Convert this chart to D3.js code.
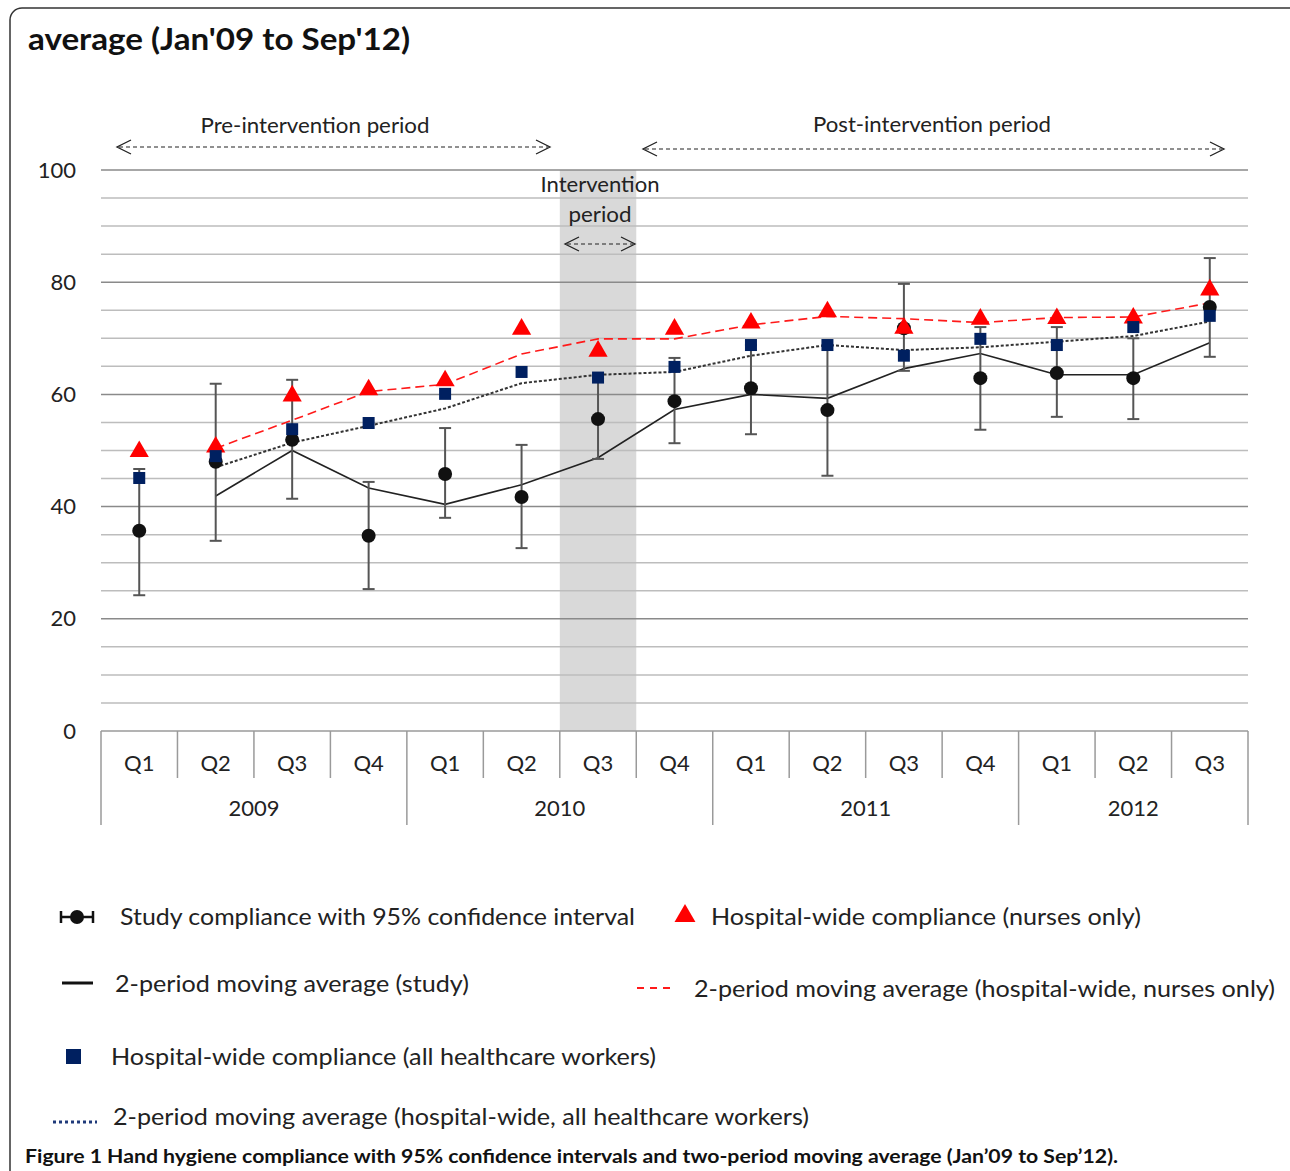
<!DOCTYPE html>
<html><head><meta charset="utf-8">
<script src="https://cdn.jsdelivr.net/npm/d3@7"></script>
<style>body{margin:0;background:#fff;} svg{display:block;font-family:Lato,"Open Sans",sans-serif;}</style>
</head><body>
<script>
const quarters = ["Q1","Q2","Q3","Q4","Q1","Q2","Q3","Q4","Q1","Q2","Q3","Q4","Q1","Q2","Q3"];
const years = ["2009","2010","2011","2012"];
const yearCounts = [4,4,4,3];
const study   = [35.7,48.0,51.9,34.8,45.8,41.7,55.6,58.8,61.1,57.2,71.8,62.9,63.8,62.9,75.6];
const ciLow   = [24.2,33.9,41.4,25.3,38.0,32.6,48.5,51.3,52.9,45.5,64.2,53.7,56.0,55.6,66.7];
const ciHigh  = [46.7,61.9,62.6,44.4,54.0,51.0,62.9,66.5,68.8,68.8,79.7,72.0,72.0,70.0,84.3];
const studyMA = [null,41.9,50.0,43.3,40.4,43.9,48.7,57.3,60.0,59.3,64.6,67.3,63.5,63.5,69.2];
const nurses  = [50.0,50.8,59.9,61.0,62.6,71.8,67.9,71.8,72.9,74.9,72.0,73.6,73.7,73.8,78.8];
const nursesMA= [null,50.4,55.4,60.5,61.8,67.2,69.9,69.9,72.4,73.9,73.5,72.8,73.7,73.8,76.3];
const hcw     = [45.1,49.0,53.8,54.9,60.1,64.0,63.0,64.9,68.8,68.8,66.9,69.9,68.8,72.0,74.0];
const hcwMA   = [null,47.0,51.4,54.4,57.5,62.0,63.5,64.0,66.9,68.8,67.9,68.4,69.4,70.4,73.0];
const yTicks = [0,20,40,60,80,100];
const interventionIndex = 6;

const W=1290,H=1171;
const svg=d3.select("body").append("svg").attr("width",W).attr("height",H);
const idx=d3.range(quarters.length);
const x=d3.scaleBand().domain(idx).range([101,1248]).padding(0);
const y=d3.scaleLinear().domain([0,100]).range([731,170]);
const cx=i=>x(i)+x.bandwidth()/2;

// frame
svg.append("rect").attr("x",10).attr("y",8).attr("width",1300).attr("height",1200).attr("rx",12)
  .attr("fill","none").attr("stroke","#333").attr("stroke-width",1.5);
svg.append("text").attr("x",28).attr("y",50).attr("font-size",31).attr("font-weight","bold")
  .attr("textLength",382).attr("lengthAdjust","spacingAndGlyphs").attr("fill","#111").text("average (Jan'09 to Sep'12)");

// intervention band
svg.append("rect").attr("x",x(interventionIndex)).attr("y",y(100)).attr("width",x.bandwidth())
  .attr("height",y(0)-y(100)).attr("fill","#d9d9d9");

// gridlines
const grid=d3.range(5,101,5);
svg.append("g").selectAll("line").data(grid).join("line")
  .attr("x1",101).attr("x2",1248).attr("y1",d=>y(d)).attr("y2",d=>y(d))
  .attr("stroke",d=>d%20===0?"#8a8a8a":"#bdbdbd").attr("stroke-width",1.5);

// y axis labels
const yAxis=d3.axisLeft(y).tickValues(yTicks).tickSize(0).tickPadding(0);
const ga=svg.append("g").attr("transform","translate(76,0)").call(yAxis);
ga.select(".domain").remove();
ga.selectAll("text").attr("font-size",22).attr("font-family","Lato,'Open Sans',sans-serif").attr("fill","#222");

// x axis
svg.append("line").attr("x1",101).attr("x2",1248).attr("y1",y(0)).attr("y2",y(0)).attr("stroke","#9a9a9a").attr("stroke-width",1.5);
const gx=svg.append("g");
idx.forEach(i=>{
  gx.append("text").attr("x",cx(i)).attr("y",771).attr("text-anchor","middle").attr("font-size",22).attr("fill","#222").text(quarters[i]);
});
let start=0;
const bounds=[0];
yearCounts.forEach((c,k)=>{
  const x0=x(start), x1=(start+c<quarters.length)?x(start+c):1248;
  gx.append("text").attr("x",(x0+x1)/2).attr("y",816).attr("text-anchor","middle").attr("font-size",22).attr("fill","#222").text(years[k]);
  for(let j=start+1;j<start+c;j++){
    gx.append("line").attr("x1",x(j)).attr("x2",x(j)).attr("y1",y(0)).attr("y2",778).attr("stroke","#9a9a9a").attr("stroke-width",1.5);
  }
  start+=c; bounds.push(start);
});
bounds.forEach(b=>{
  const xv=b<quarters.length?x(b):1248;
  gx.append("line").attr("x1",xv).attr("x2",xv).attr("y1",y(0)).attr("y2",825).attr("stroke","#9a9a9a").attr("stroke-width",1.5);
});

// annotations
function arrow(x1,x2,yy){
  const g=svg.append("g").attr("stroke","#222").attr("fill","none");
  g.append("line").attr("x1",x1+2).attr("x2",x2-2).attr("y1",yy).attr("y2",yy).attr("stroke-width",1.2).attr("stroke-dasharray","4,3");
  g.append("path").attr("d",`M${x1+14},${yy-7}L${x1},${yy}L${x1+14},${yy+7}`).attr("stroke-width",1.3);
  g.append("path").attr("d",`M${x2-14},${yy-7}L${x2},${yy}L${x2-14},${yy+7}`).attr("stroke-width",1.3);
}
function label(t,xx,yy,len){svg.append("text").attr("x",xx).attr("y",yy).attr("text-anchor","middle").attr("font-size",21).attr("fill","#222")
  .attr("textLength",len).attr("lengthAdjust","spacingAndGlyphs").text(t);}
label("Pre-intervention period",315,133,229);
arrow(117,550,147);
label("Post-intervention period",932,132,238);
arrow(643,1224,149);
label("Intervention",600,192,119);
label("period",600,222,63);
arrow(565,635,244);

// lines
const line=d3.line().defined(d=>d[1]!=null).x(d=>cx(d[0])).y(d=>y(d[1]));
const pairs=a=>a.map((v,i)=>[i,v]);
svg.append("path").attr("d",line(pairs(studyMA))).attr("fill","none").attr("stroke","#222").attr("stroke-width",1.6);
svg.append("path").attr("d",line(pairs(hcwMA))).attr("fill","none").attr("stroke","#333").attr("stroke-width",2).attr("stroke-dasharray","3,2");
svg.append("path").attr("d",line(pairs(nursesMA))).attr("fill","none").attr("stroke","#ff1a1a").attr("stroke-width",1.6).attr("stroke-dasharray","9,5");

// error bars
const eb=svg.append("g").attr("stroke","#555").attr("stroke-width",2);
idx.forEach(i=>{
  eb.append("line").attr("x1",cx(i)).attr("x2",cx(i)).attr("y1",y(ciLow[i])).attr("y2",y(ciHigh[i]));
  [ciLow[i],ciHigh[i]].forEach(v=>eb.append("line").attr("x1",cx(i)-6).attr("x2",cx(i)+6).attr("y1",y(v)).attr("y2",y(v)));
});
// circles
svg.append("g").selectAll("circle").data(idx).join("circle").attr("cx",cx).attr("cy",i=>y(study[i])).attr("r",7).attr("fill","#111");
// triangles
const tri=d3.symbol().type(d3.symbolTriangle).size(160);
svg.append("g").selectAll("path").data(idx).join("path").attr("d",tri).attr("fill","#ff0000")
  .attr("transform",i=>`translate(${cx(i)},${y(nurses[i])+1})`);
// squares
svg.append("g").selectAll("rect").data(idx).join("rect").attr("x",i=>cx(i)-6).attr("y",i=>y(hcw[i])-6)
  .attr("width",12).attr("height",12).attr("fill","#002060");

// legend
function ltext(t,xx,yy,len){svg.append("text").attr("x",xx).attr("y",yy).attr("font-size",24).attr("fill","#222")
  .attr("textLength",len).attr("lengthAdjust","spacingAndGlyphs").text(t);}
const lg=svg.append("g");
lg.append("line").attr("x1",61).attr("x2",93).attr("y1",917).attr("y2",917).attr("stroke","#111").attr("stroke-width",2.5);
lg.append("line").attr("x1",61).attr("x2",61).attr("y1",911).attr("y2",923).attr("stroke","#111").attr("stroke-width",2.5);
lg.append("line").attr("x1",93).attr("x2",93).attr("y1",911).attr("y2",923).attr("stroke","#111").attr("stroke-width",2.5);
lg.append("circle").attr("cx",77).attr("cy",917).attr("r",7).attr("fill","#111");
ltext("Study compliance with 95% confidence interval",120,925,515);
lg.append("path").attr("d",d3.symbol().type(d3.symbolTriangle).size(190)).attr("fill","#ff0000").attr("transform","translate(685,916)");
ltext("Hospital-wide compliance (nurses only)",711,925,430);
lg.append("line").attr("x1",62).attr("x2",93).attr("y1",983).attr("y2",983).attr("stroke","#111").attr("stroke-width",3);
ltext("2-period moving average (study)",115,992,354);
lg.append("line").attr("x1",637).attr("x2",676).attr("y1",988).attr("y2",988).attr("stroke","#ff1a1a").attr("stroke-width",2).attr("stroke-dasharray","7,6");
ltext("2-period moving average (hospital-wide, nurses only)",694,997,581);
lg.append("rect").attr("x",66).attr("y",1049).attr("width",15).attr("height",15).attr("fill","#002060");
ltext("Hospital-wide compliance (all healthcare workers)",111,1065,545);
lg.append("line").attr("x1",53).attr("x2",97).attr("y1",1122).attr("y2",1122).attr("stroke","#1f3a7a").attr("stroke-width",3).attr("stroke-dasharray","3,3");
ltext("2-period moving average (hospital-wide, all healthcare workers)",113,1125,696);

// caption
svg.append("text").attr("x",25).attr("y",1163).attr("font-size",19).attr("font-weight","bold").attr("fill","#111")
  .attr("textLength",1093).attr("lengthAdjust","spacingAndGlyphs")
  .text("Figure 1 Hand hygiene compliance with 95% confidence intervals and two-period moving average (Jan’09 to Sep’12).");
</script>
</body></html>
